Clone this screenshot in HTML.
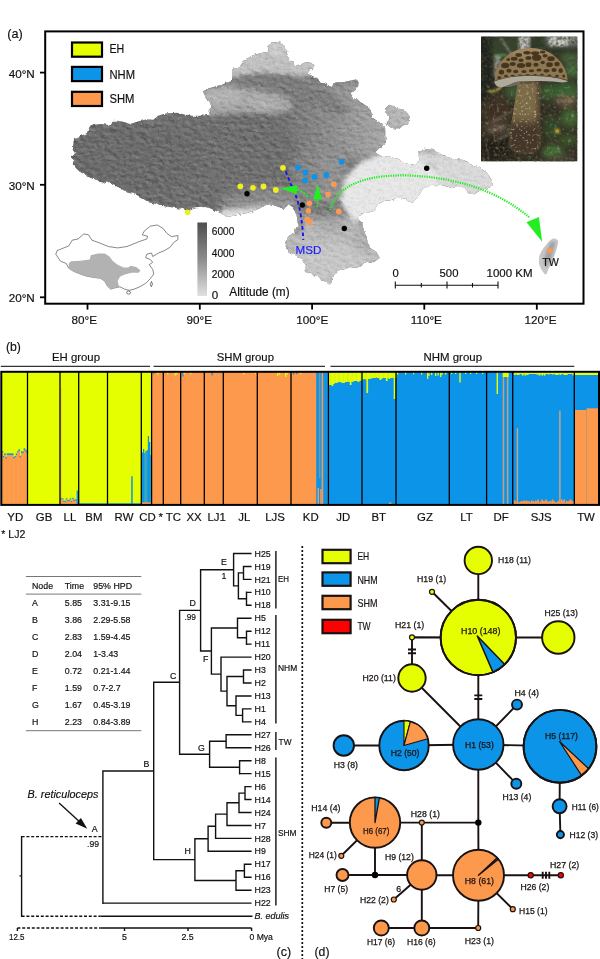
<!DOCTYPE html>
<html><head><meta charset="utf-8"><title>figure</title>
<style>
html,body{margin:0;padding:0;background:#fff;}
body{width:600px;height:959px;overflow:hidden;font-family:"Liberation Sans",sans-serif;}
svg{display:block;font-family:"Liberation Sans",sans-serif;}
</style></head><body>
<svg width="600" height="959" viewBox="0 0 600 959" style="opacity:0.999">
<rect width="600" height="959" fill="#fff"/>

<defs>
<clipPath id="land"><polygon points="70.5,156.7 75.2,153.2 72.8,149.7 74,139.2 81,135.7 86.8,133.3 89.2,127.5 92.7,124.5 102,124 110.2,125.2 114.8,120.5 123,121.7 130,124 137,121.7 146.3,119.3 153.3,119.8 158,115.8 165,113.5 176.7,112.8 186,114.7 193,115.8 199.3,115.8 209.8,114.7 208.7,110 212.2,106.5 207.5,100.7 202.8,91.3 211,87.8 222.7,84.3 232,80.8 232,69.2 240.2,66.8 244.8,59.8 253,55.2 262.3,52.8 268.2,51.7 268.2,45.8 272.8,42.3 281,42.3 284.5,47 288,52.8 286.8,56.3 292.7,62.2 295,66.8 303.2,63.3 309.3,62.1 314.5,65.2 311.7,69.8 307,73.3 314,76.8 323.3,82.7 331.5,86.9 335,82.7 346.7,81.5 356,79.2 358.8,83.8 354.8,89.7 350.2,93.2 354.8,99 363,103.7 370,108.3 372.3,117.7 379.3,122.3 385.2,127 385.2,136.3 385.7,144 379.8,147.5 375.2,152.2 379.8,155.7 390.3,156.8 398.5,159.2 406.7,163.8 414.8,165 419.5,160.3 418.3,152.2 424.2,148.7 432.3,149.8 439.3,153.3 446.3,156.8 455.7,159.2 465,160.3 472,165 481.3,168.5 487.2,173.2 491.8,180.2 493,186 487.2,188.3 481.3,189.5 474.3,194.2 467.3,193 463.8,187.2 458,186 452.2,188.3 446.3,186 439.3,184.8 430,186 423,188.3 419.5,194.2 414.8,200 410.2,203.5 405.5,198.8 398.5,197.7 391.5,200 383.3,201.2 377.5,204.7 374,210.5 368.2,212.8 363.3,213.3 356.3,218 362.2,222.7 363.3,228.5 365.7,235.5 368,242.5 370.3,248.3 376.2,251.8 379.7,257.7 373.8,262.3 368,261.2 362.2,264.7 356.3,268.2 350.5,267 344.7,269.3 337.7,270.5 333,276.3 331.8,282.9 327.2,283.3 322.5,279.8 316.7,276.3 310.8,274 305,271.7 305,264.7 301.5,258.8 295.7,255.3 292.2,253 286.3,249.5 285.2,242.5 288.7,236.7 294.5,232 298,223.8 296.8,215.7 293.3,207.5 288.7,204 284,208.7 277,206.3 270,204 264.3,206 253.3,211.2 238.7,214.8 227.7,216.7 220.3,213 209.3,208 200,206.8 191.8,208 187.9,212 183.7,209.2 175.5,208 167.3,206.8 160.3,205.7 153.3,203.3 147.5,202.2 141.7,197.5 134.7,194 127.7,192.8 120.7,188.2 113.7,184.7 106.7,181.2 102,183.5 97.3,180 90.3,177.7 84.5,174.2 79.8,171.8 76.3,168.3 72.8,163.7 74,160.2"/><polygon points="385.2,108.3 389.8,104.8 398,108.3 406.2,111.8 409.7,116.5 407.8,124.7 398,128.2 392.2,128.2 386.3,124.7 389.8,117.7 385.2,113"/></clipPath>
<filter id="bl6" x="-30%" y="-30%" width="160%" height="160%"><feGaussianBlur stdDeviation="5"/></filter>
<filter id="bl4" x="-30%" y="-30%" width="160%" height="160%"><feGaussianBlur stdDeviation="4"/></filter>
<filter id="bl3" x="-30%" y="-30%" width="160%" height="160%"><feGaussianBlur stdDeviation="3"/></filter>
<filter id="bl2" x="-30%" y="-30%" width="160%" height="160%"><feGaussianBlur stdDeviation="2"/></filter>
<filter id="bl05" x="-30%" y="-30%" width="160%" height="160%"><feGaussianBlur stdDeviation="0.55"/></filter>
<filter id="bl1" x="-30%" y="-30%" width="160%" height="160%"><feGaussianBlur stdDeviation="1"/></filter>
<filter id="texW" x="0" y="0" width="100%" height="100%"><feTurbulence type="fractalNoise" baseFrequency="0.35 0.45" numOctaves="3" seed="7"/><feColorMatrix type="matrix" values="0 0 0 0 1  0 0 0 0 1  0 0 0 0 1  2.4 0 0 0 -1.2"/></filter>
<filter id="texB" x="0" y="0" width="100%" height="100%"><feTurbulence type="fractalNoise" baseFrequency="0.35 0.45" numOctaves="3" seed="7"/><feColorMatrix type="matrix" values="0 0 0 0 0  0 0 0 0 0  0 0 0 0 0  -2.4 0 0 0 1.2"/></filter>
<filter id="tex2" x="0" y="0" width="100%" height="100%"><feTurbulence type="fractalNoise" baseFrequency="0.2 0.25" numOctaves="2" seed="3" result="n"/><feColorMatrix in="n" type="matrix" values="0 0 0 0 1  0 0 0 0 1  0 0 0 0 1  1.5 0 0 0 -0.75"/></filter>
<filter id="relief" filterUnits="userSpaceOnUse" x="50" y="34" width="470" height="262" color-interpolation-filters="sRGB"><feTurbulence type="fractalNoise" baseFrequency="0.16 0.26" numOctaves="4" seed="12" result="t"/><feDiffuseLighting in="t" surfaceScale="0.6" diffuseConstant="1" lighting-color="#ffffff" result="l"><feDistantLight azimuth="315" elevation="30"/></feDiffuseLighting><feBlend in="l" in2="SourceGraphic" mode="soft-light" result="b"/><feComposite in="b" in2="SourceGraphic" operator="in" result="c"/><feTurbulence type="fractalNoise" baseFrequency="0.25" numOctaves="2" seed="4" result="d"/><feDisplacementMap in="c" in2="d" scale="3.2" xChannelSelector="R" yChannelSelector="G"/></filter>
<linearGradient id="arg" gradientUnits="userSpaceOnUse" x1="0" y1="201" x2="0" y2="216"><stop offset="0" stop-color="#8a8a8a"/><stop offset="0.45" stop-color="#c4c4c4"/><stop offset="1" stop-color="#e8e8e8"/></linearGradient>
<linearGradient id="neg" gradientUnits="userSpaceOnUse" x1="290" y1="0" x2="385" y2="0"><stop offset="0" stop-color="#787878"/><stop offset="0.5" stop-color="#929292"/><stop offset="1" stop-color="#a8a8a8"/></linearGradient>
<linearGradient id="alt" x1="0" y1="0" x2="0" y2="1"><stop offset="0" stop-color="#4e4e4e"/><stop offset="0.5" stop-color="#8c8c8c"/><stop offset="1" stop-color="#e0e0e0"/></linearGradient>
</defs>
<g filter="url(#relief)">
<g clip-path="url(#land)">
<rect x="60" y="40" width="450" height="250" fill="#707070"/>
<g filter="url(#bl6)">
<ellipse cx="130" cy="160" rx="70" ry="34" fill="#6c6c6c"/>
<polygon points="286,78 330,76 400,86 400,160 352,160 340,150 318,150 300,150 286,120" fill="url(#neg)"/>
<polygon points="300,150 340,148 352,170 342,206 298,206 290,170" fill="#868686"/>
<polygon points="318,152 345,152 350,172 338,205 318,200" fill="#929292"/>
<polygon points="222,196 250,190 280,186 296,192 298,214 280,216 250,218 222,222" fill="#8c8c8c"/>
<polygon points="280,218 354,214 392,250 376,276 330,294 298,276 280,244" fill="#bcbcbc"/>
<ellipse cx="332" cy="262" rx="40" ry="18" fill="#c8c8c8"/>
<ellipse cx="364" cy="240" rx="12" ry="14" fill="#b0b0b0"/>
<ellipse cx="330" cy="224" rx="18" ry="8" fill="#a8a8a8"/>
<polygon points="400,146 500,156 504,200 412,210" fill="#dadada"/>
</g>
<g filter="url(#bl2)">
<polygon points="200,89 232,83 262,86 288,98 294,108 280,114 240,113 208,116 204,100" fill="#a6a6a6"/>
<ellipse cx="224" cy="97" rx="19" ry="8" fill="#b4b4b4"/>
<ellipse cx="262" cy="103" rx="16" ry="5" fill="#b2b2b2" transform="rotate(12 262 103)"/>
<polygon points="232,79 262,76 300,81 328,92 350,110 340,116 300,100 262,90 234,87" fill="#7e7e7e"/>
<polygon points="226,78 228,64 246,50 264,40 290,38 296,58 320,58 318,70 306,77 288,75 262,73 240,76" fill="#c2c2c2"/>
<ellipse cx="277" cy="49" rx="9" ry="8" fill="#cdcdcd"/>
<ellipse cx="298" cy="222" rx="6" ry="13" fill="#9a9a9a"/>
<ellipse cx="427" cy="170" rx="9" ry="8" fill="#bebebe"/>
<polygon points="384,102 412,104 412,128 386,132" fill="#b6b6b6"/>
</g>
<g filter="url(#bl2)">
<polygon points="345,178 360,162 384,153 420,160 436,170 440,186 424,204 396,204 374,214 354,222 340,202" fill="#e8e8e8"/>
<polygon points="214,226 222,209 250,206 268,202 284,204 290,213 262,222" fill="url(#arg)"/>
<polygon points="266,207 290,201 297,212 292,228 281,212" fill="#9a9a9a"/>
</g>
<rect x="60" y="40" width="450" height="250" filter="url(#texW)" opacity="0.08"/>
<rect x="60" y="40" width="450" height="250" filter="url(#texB)" opacity="0.08"/>
</g>
</g>
<polygon points="553,238.5 556,238.8 558.2,241 557.5,246 556,251 553.5,258 551,264 548.5,269 546.5,274 545,274.5 543,272 540.5,268 538.8,263 539.3,256 541.5,251 544,247.5 547.5,243 550.5,240" fill="#c6c6c6" filter="url(#bl05)"/>
<polygon points="551,242 555.5,242 552,256 546.5,268 543.5,262 546,252" fill="#a2a2a2" filter="url(#bl1)"/>
<rect x="197.4" y="222.5" width="9.6" height="73.5" fill="url(#alt)"/>
<text x="211.8" y="235.4" font-size="11.6" text-anchor="start" fill="#111" textLength="22.6" lengthAdjust="spacingAndGlyphs"  stroke="#111" stroke-width="0.18" style="">6000</text>
<text x="211.8" y="256.6" font-size="11.6" text-anchor="start" fill="#111" textLength="22.6" lengthAdjust="spacingAndGlyphs"  stroke="#111" stroke-width="0.18" style="">4000</text>
<text x="211.8" y="278" font-size="11.6" text-anchor="start" fill="#111" textLength="22.6" lengthAdjust="spacingAndGlyphs"  stroke="#111" stroke-width="0.18" style="">2000</text>
<text x="211.8" y="299.2" font-size="11.6" text-anchor="start" fill="#111"  stroke="#111" stroke-width="0.18" style="">0</text>
<text x="229.3" y="296.2" font-size="12.2" text-anchor="start" fill="#111" textLength="60.3" lengthAdjust="spacingAndGlyphs"  stroke="#111" stroke-width="0.18" style="">Altitude (m)</text>
<polygon points="55.8,254.2 57,250.7 62.8,248.3 68.7,246 72.2,240.2 78,239 83.8,233.9 88.5,234.8 92,240.2 100.2,243.2 108.3,246.5 117.7,247.9 127,246.5 134,243.7 141,240.9 146.8,239 147.5,236.2 142.2,234.8 144.5,230.8 150.3,226.2 157.3,225 163.2,228.5 166.7,233.2 171.3,236.7 177.9,235.5 177.9,239.5 173.7,242.5 170.2,247.2 164.3,250.7 158.5,253 152.7,256.5 151.5,253 146.8,254.2 145.7,257.7 150.3,259.5 152.7,262.3 149.2,264.7 152.7,269.3 153.8,274 150.3,278.7 145.7,283.3 139.8,286.8 134,289.2 129.3,290.3 124.7,289.2 120,286.8 114.2,288 110.7,289.2 107.2,285.7 104.8,281 100.2,278.2 94.3,277.5 87.3,276.3 80.3,274 73.3,271.2 68.7,268.2 66.3,263.5 60.5,261.2 58.2,257.7" fill="#fff" stroke="#555" stroke-width="0.7" stroke-linejoin="round"/>
<polygon points="68.7,263.5 71,261.2 80.3,260.7 89.7,259.5 90.8,255.3 97.8,253.5 104.8,253.5 109.5,256.5 113,261.2 117.7,264.7 123.5,267.5 128.2,267.5 130.5,265.8 136.3,267 140.5,270.5 138.7,272.8 131.7,272.8 124.7,274.5 120,276.8 117.7,281 118.8,285.7 120,286.8 114.2,288 110.7,289.2 107.2,285.7 104.8,281 100.2,278.2 94.3,277.5 87.3,276.3 80.3,274 73.3,271.2 68.7,268.2" fill="#b2b2b2"/>
<ellipse cx="128.6" cy="292.6" rx="2" ry="1.5" fill="#fff" stroke="#444" stroke-width="0.7"/>
<path d="M151.5 281.5 l1 2.5 l-1.2 2.8 l-1 -2.5z" fill="#fff" stroke="#444" stroke-width="0.7"/>
<defs><clipPath id="ph"><rect x="481" y="36.5" width="96.5" height="125"/></clipPath>
<filter id="phn" x="0" y="0" width="100%" height="100%"><feTurbulence type="fractalNoise" baseFrequency="0.32" numOctaves="2" seed="11"/><feColorMatrix type="matrix" values="0 0 0 0 0.06  0 0 0 0 0.06  0 0 0 0 0.03  2.6 0 0 0 -1.1"/></filter>
<filter id="phn2" x="0" y="0" width="100%" height="100%"><feTurbulence type="fractalNoise" baseFrequency="0.28" numOctaves="2" seed="5"/><feColorMatrix type="matrix" values="0 0 0 0 0.72  0 0 0 0 0.66  0 0 0 0 0.55  0 3 0 0 -1.7"/></filter>
<filter id="phn3" x="0" y="0" width="100%" height="100%"><feTurbulence type="fractalNoise" baseFrequency="0.38" numOctaves="2" seed="9"/><feColorMatrix type="matrix" values="0 0 0 0 0.9  0 0 0 0 0.88  0 0 0 0 0.8  0 0 3 0 -1.75"/></filter>
<clipPath id="capc"><path d="M494.6 81 C495 70 500 60 509 54 C516 49.5 524 48 531 48 C541 48 552 52 559 60 C565 67 567.5 74 567.6 80.5 C556 76.5 544 75.6 530 75.6 C516 75.6 505 77.5 494.6 81Z"/></clipPath>
<clipPath id="stemc"><path d="M517.5 79 L540.2 79 C540 100 540.3 128 540.5 146 C538 152.5 530 154.8 524 154.2 C515 153.5 509.5 150 508.6 145 C509.5 126 515.5 106 517.5 79Z"/></clipPath>
</defs>
<g clip-path="url(#ph)">
<rect x="481" y="36.5" width="96.5" height="125" fill="#302c22"/>
<g filter="url(#bl3)">
<rect x="478" y="34" width="14" height="70" fill="#1d211b"/>
<rect x="492" y="36" width="30" height="20" fill="#34422f"/>
<rect x="530" y="36" width="22" height="14" fill="#2c3a28"/>
<rect x="548" y="34" width="30" height="10" fill="#9aa298"/>
<rect x="552" y="46" width="28" height="16" fill="#2a3324"/>
<ellipse cx="572" cy="70" rx="8" ry="7" fill="#4a7a44"/>
<ellipse cx="570" cy="58" rx="10" ry="3" fill="#56784a"/>
<ellipse cx="566" cy="92" rx="14" ry="10" fill="#356331"/>
<ellipse cx="548" cy="92" rx="8" ry="8" fill="#38602f"/>
<ellipse cx="570" cy="118" rx="9" ry="9" fill="#3f6e35"/>
<ellipse cx="552" cy="128" rx="8" ry="12" fill="#2f4a26"/>
<ellipse cx="553" cy="152" rx="10" ry="6" fill="#4a8638"/>
<ellipse cx="568" cy="140" rx="8" ry="6" fill="#3a5a2c"/>
<ellipse cx="566" cy="101" rx="10" ry="4.5" fill="#8c6e58"/>
<ellipse cx="513" cy="92" rx="8" ry="6" fill="#3c6838"/>
<ellipse cx="496" cy="112" rx="14" ry="16" fill="#3c2f24"/>
<ellipse cx="497" cy="128" rx="12" ry="6" fill="#5a4a3c"/>
<ellipse cx="497" cy="148" rx="18" ry="12" fill="#211c18"/>
<ellipse cx="560" cy="158" rx="14" ry="4" fill="#4a4438"/>
</g>
<g filter="url(#bl1)">
<rect x="518.6" y="36" width="11.6" height="15" fill="#b9b9b9"/>
<path d="M500.5 38 L512.5 56" stroke="#959c93" stroke-width="1.5"/>
<rect x="494" y="56" width="7.5" height="21" fill="#868c82"/>
<rect x="494" y="54" width="13" height="2.6" fill="#5c9050"/>
<rect x="549.5" y="36" width="18" height="10" fill="#e6e8e6"/>
<path d="M553 36V45 M557 36V46 M561 36V44 M565 36V46" stroke="#39402f" stroke-width="1.2"/>
<path d="M488 91 C494 92 498 90 501 87" stroke="#c9c24a" stroke-width="1.8" fill="none"/>
<path d="M492 122 L510 112 M489 132 L506 126 M496 140 L512 133" stroke="#a8988a" stroke-width="1"/>
<ellipse cx="557" cy="131" rx="3" ry="2.5" fill="#bfa232"/>
</g>
<rect x="481" y="36.5" width="96.5" height="125" filter="url(#phn)" opacity="0.85"/>
<rect x="481" y="84" width="96.5" height="78" filter="url(#phn2)" opacity="0.38"/>
<path d="M517.5 79 L540.2 79 C540 100 540.3 128 540.5 146 C538 152.5 530 154.8 524 154.2 C515 153.5 509.5 150 508.6 145 C509.5 126 515.5 106 517.5 79Z" fill="#7b6a46"/>
<g clip-path="url(#stemc)"><rect x="505" y="122" width="40" height="36" fill="#2e241a" opacity="0.7" filter="url(#bl4)"/><rect x="536.5" y="78" width="6" height="80" fill="#4a3c2a" opacity="0.7" filter="url(#bl1)"/><rect x="505" y="78" width="40" height="80" filter="url(#phn3)" opacity="0.7"/><rect x="517" y="78" width="26" height="5" fill="#2a2018" opacity="0.6" filter="url(#bl1)"/></g>
<path d="M494.4 81.5 C505 77 517 76 530 76 C544 76 556 77 567.8 81 C567 83 560 82.5 552 81.6 C548 81.2 544 81 540.5 81 L519.5 81.5 C514 82 510 85 505 86.5 C500 88 495 87 494.4 81.5Z" fill="#aeaa9c"/>
<path d="M505 86.5 C510 85 514 82 519.5 81.5 L519.5 84 C514 86 509 88 505 86.5Z" fill="#6e6a60"/>
<path d="M494.6 81 C495 70 500 60 509 54 C516 49.5 524 48 531 48 C541 48 552 52 559 60 C565 67 567.5 74 567.6 80.5 C556 76.5 544 75.6 530 75.6 C516 75.6 505 77.5 494.6 81Z" fill="#8d7852"/>
<g clip-path="url(#capc)">
<ellipse cx="531" cy="52" rx="22" ry="6" fill="#a8926c" opacity="0.6" filter="url(#bl2)"/>
<g filter="url(#bl05)" opacity="0.95">
<ellipse cx="518.7" cy="55.0" rx="3.37" ry="1.95" fill="#43331f"/>
<ellipse cx="527.0" cy="52.7" rx="3.75" ry="1.75" fill="#43331f"/>
<ellipse cx="535.2" cy="53.2" rx="4.12" ry="1.95" fill="#43331f"/>
<ellipse cx="542.7" cy="52.0" rx="2.81" ry="1.56" fill="#43331f"/>
<ellipse cx="514.2" cy="58.7" rx="3.37" ry="1.95" fill="#43331f"/>
<ellipse cx="521.0" cy="60.2" rx="2.62" ry="1.75" fill="#43331f"/>
<ellipse cx="528.5" cy="58.0" rx="3.00" ry="1.95" fill="#43331f"/>
<ellipse cx="536.7" cy="57.7" rx="4.69" ry="3.12" fill="#43331f"/>
<ellipse cx="545.0" cy="55.7" rx="2.62" ry="1.75" fill="#43331f"/>
<ellipse cx="551.0" cy="58.7" rx="3.75" ry="2.34" fill="#43331f"/>
<ellipse cx="505.2" cy="65.5" rx="4.12" ry="2.73" fill="#43331f"/>
<ellipse cx="512.7" cy="64.0" rx="3.00" ry="1.95" fill="#43331f"/>
<ellipse cx="521.0" cy="65.5" rx="4.12" ry="2.53" fill="#43331f"/>
<ellipse cx="528.5" cy="64.7" rx="3.00" ry="2.34" fill="#43331f"/>
<ellipse cx="536.0" cy="64.7" rx="2.62" ry="1.95" fill="#43331f"/>
<ellipse cx="542.7" cy="62.5" rx="2.25" ry="1.75" fill="#43331f"/>
<ellipse cx="549.5" cy="64.7" rx="3.37" ry="2.34" fill="#43331f"/>
<ellipse cx="557.0" cy="64.0" rx="2.62" ry="2.34" fill="#43331f"/>
<ellipse cx="501.5" cy="72.2" rx="2.62" ry="2.34" fill="#43331f"/>
<ellipse cx="509.0" cy="70.7" rx="2.62" ry="1.95" fill="#43331f"/>
<ellipse cx="515.7" cy="71.5" rx="2.62" ry="1.75" fill="#43331f"/>
<ellipse cx="524.0" cy="71.5" rx="2.62" ry="1.56" fill="#43331f"/>
<ellipse cx="531.5" cy="70.7" rx="2.62" ry="1.56" fill="#43331f"/>
<ellipse cx="539.0" cy="70.0" rx="2.62" ry="1.56" fill="#43331f"/>
<ellipse cx="546.5" cy="70.7" rx="3.00" ry="1.75" fill="#43331f"/>
<ellipse cx="554.0" cy="70.0" rx="2.62" ry="1.95" fill="#43331f"/>
<ellipse cx="560.7" cy="70.7" rx="2.25" ry="2.34" fill="#43331f"/>
<ellipse cx="499.2" cy="77.5" rx="1.87" ry="1.56" fill="#43331f"/>
<ellipse cx="506.0" cy="76.0" rx="1.87" ry="1.17" fill="#43331f"/>
<ellipse cx="512.7" cy="75.7" rx="1.87" ry="0.97" fill="#43331f"/>
<ellipse cx="520.2" cy="75.4" rx="1.87" ry="0.97" fill="#43331f"/>
<ellipse cx="527.7" cy="74.8" rx="1.69" ry="0.78" fill="#43331f"/>
<ellipse cx="535.2" cy="74.8" rx="1.69" ry="0.78" fill="#43331f"/>
<ellipse cx="542.0" cy="74.8" rx="1.87" ry="0.97" fill="#43331f"/>
<ellipse cx="549.5" cy="75.4" rx="1.87" ry="0.97" fill="#43331f"/>
<ellipse cx="557.0" cy="76.0" rx="1.87" ry="1.36" fill="#43331f"/>
<ellipse cx="563.7" cy="76.0" rx="1.50" ry="1.56" fill="#43331f"/>
<ellipse cx="560.0" cy="59.5" rx="1.50" ry="1.56" fill="#43331f"/>
<ellipse cx="508.2" cy="59.5" rx="1.87" ry="1.56" fill="#43331f"/>
</g>
<path d="M494 81 C505 77.5 517 75.8 530 75.8 C544 75.8 556 76.8 568 80.6" stroke="#5a4a36" stroke-width="1.6" fill="none" opacity="0.6"/>
</g>
</g>
<rect x="45.2" y="31.4" width="538.3" height="272.3" fill="none" stroke="#000" stroke-width="2"/>
<line x1="40" y1="72.6" x2="45" y2="72.6" stroke="#000" stroke-width="1.8"/>
<line x1="40" y1="184.8" x2="45" y2="184.8" stroke="#000" stroke-width="1.8"/>
<line x1="40" y1="297.3" x2="45" y2="297.3" stroke="#000" stroke-width="1.8"/>
<line x1="87.5" y1="304" x2="87.5" y2="309.6" stroke="#000" stroke-width="1.8"/>
<line x1="199.8" y1="304" x2="199.8" y2="309.6" stroke="#000" stroke-width="1.8"/>
<line x1="312.1" y1="304" x2="312.1" y2="309.6" stroke="#000" stroke-width="1.8"/>
<line x1="424.3" y1="304" x2="424.3" y2="309.6" stroke="#000" stroke-width="1.8"/>
<line x1="536.8" y1="304" x2="536.8" y2="309.6" stroke="#000" stroke-width="1.8"/>
<text x="8.7" y="77.6" font-size="11.7" text-anchor="start" fill="#111"  stroke="#111" stroke-width="0.18" style="">40°N</text>
<text x="8.7" y="189.8" font-size="11.7" text-anchor="start" fill="#111"  stroke="#111" stroke-width="0.18" style="">30°N</text>
<text x="8.7" y="302.2" font-size="11.7" text-anchor="start" fill="#111"  stroke="#111" stroke-width="0.18" style="">20°N</text>
<text x="71.6" y="324.4" font-size="11.7" text-anchor="start" fill="#111"  stroke="#111" stroke-width="0.18" style="">80°E</text>
<text x="186.5" y="324.4" font-size="11.7" text-anchor="start" fill="#111"  stroke="#111" stroke-width="0.18" style="">90°E</text>
<text x="296.3" y="324.4" font-size="11.7" text-anchor="start" fill="#111"  stroke="#111" stroke-width="0.18" style="">100°E</text>
<text x="410.8" y="324.4" font-size="11.7" text-anchor="start" fill="#111"  stroke="#111" stroke-width="0.18" style="">110°E</text>
<text x="524.6" y="324.4" font-size="11.7" text-anchor="start" fill="#111"  stroke="#111" stroke-width="0.18" style="">120°E</text>
<text x="7.3" y="37.5" font-size="13.5" text-anchor="start" fill="#111" textLength="15.5" lengthAdjust="spacingAndGlyphs"  stroke="#111" stroke-width="0.18" style="">(a)</text>
<rect x="72" y="42.5" width="30" height="14.2" fill="#e6ff00" stroke="#000" stroke-width="2.2"/>
<text x="109.5" y="52.5" font-size="13.2" text-anchor="start" fill="#111" textLength="14.8" lengthAdjust="spacingAndGlyphs"  stroke="#111" stroke-width="0.18" style="">EH</text>
<rect x="72" y="66.9" width="30" height="14.2" fill="#0c94e8" stroke="#000" stroke-width="2.2"/>
<text x="109.5" y="79.2" font-size="13.2" text-anchor="start" fill="#111" textLength="25.5" lengthAdjust="spacingAndGlyphs"  stroke="#111" stroke-width="0.18" style="">NHM</text>
<rect x="72" y="91.8" width="30" height="14.2" fill="#fd994d" stroke="#000" stroke-width="2.2"/>
<text x="109.5" y="103.4" font-size="13.2" text-anchor="start" fill="#111" textLength="25" lengthAdjust="spacingAndGlyphs"  stroke="#111" stroke-width="0.18" style="">SHM</text>
<path d="M395.3 285.2H498 M395.3 281.5V288.5 M447 281.5V288.5 M498 281.5V288.5 M421.3 283V287.5 M472.5 283V287.5" stroke="#111" stroke-width="1.1" fill="none"/>
<text x="395.6" y="277" font-size="11.3" text-anchor="middle" fill="#111"  stroke="#111" stroke-width="0.18" style="">0</text>
<text x="449" y="277" font-size="11.3" text-anchor="middle" fill="#111"  stroke="#111" stroke-width="0.18" style="">500</text>
<text x="486.5" y="277" font-size="11.3" text-anchor="start" fill="#111" textLength="46" lengthAdjust="spacingAndGlyphs"  stroke="#111" stroke-width="0.18" style="">1000 KM</text>
<circle cx="240.3" cy="186.3" r="2.9" fill="#eef01e"/>
<circle cx="253" cy="187.8" r="2.9" fill="#eef01e"/>
<circle cx="263.5" cy="186.5" r="2.9" fill="#eef01e"/>
<circle cx="275.8" cy="190" r="2.9" fill="#eef01e"/>
<circle cx="283" cy="167.8" r="2.9" fill="#eef01e"/>
<circle cx="187.6" cy="212.3" r="2.9" fill="#eef01e"/>
<circle cx="298" cy="167.5" r="2.9" fill="#0c94e8"/>
<circle cx="305.5" cy="172.5" r="2.9" fill="#0c94e8"/>
<circle cx="305" cy="180.5" r="2.9" fill="#0c94e8"/>
<circle cx="314.3" cy="177" r="2.9" fill="#0c94e8"/>
<circle cx="326.3" cy="175" r="2.9" fill="#0c94e8"/>
<circle cx="341.5" cy="161.8" r="2.9" fill="#0c94e8"/>
<circle cx="333.8" cy="184.3" r="2.9" fill="#f79a55"/>
<circle cx="328" cy="194.5" r="2.9" fill="#f79a55"/>
<circle cx="309.3" cy="203.3" r="2.9" fill="#f79a55"/>
<circle cx="308.3" cy="210.8" r="2.9" fill="#f79a55"/>
<circle cx="307.5" cy="219.3" r="2.9" fill="#f79a55"/>
<circle cx="309.5" cy="222.5" r="2.9" fill="#f79a55"/>
<circle cx="338.8" cy="211.5" r="2.9" fill="#f79a55"/>
<circle cx="247" cy="193.8" r="2.7" fill="#000"/>
<circle cx="302.3" cy="205" r="2.7" fill="#000"/>
<circle cx="344.3" cy="228.5" r="2.7" fill="#000"/>
<circle cx="426.7" cy="168.3" r="2.7" fill="#000"/>
<circle cx="549.7" cy="250.7" r="2.6" fill="#f79a55"/>
<path d="M285.8 171.3 C289 181 294 190 297 199 C300.5 210 302.5 224 303.3 240" fill="none" stroke="#1414f0" stroke-width="1.9" stroke-dasharray="3.6 2.8"/>
<text x="295.5" y="253.8" font-size="11.8" text-anchor="start" fill="#1a1aff" textLength="25.8" lengthAdjust="spacingAndGlyphs"  stroke="#1a1aff" stroke-width="0.18" style="">MSD</text>
<polygon points="280.8,188.6 297.2,185 296.8,194.3" fill="#22ee22"/>
<path d="M296 189.5 C301 190.3 305 193 308 197" fill="none" stroke="#22ee22" stroke-width="1.5" stroke-dasharray="3 0.9"/>
<polygon points="317.5,184.3 313,199.6 322.2,199.6" fill="#22ee22"/>
<path d="M317.8 199 C318 203 317.5 206 316.8 209" fill="none" stroke="#22ee22" stroke-width="1.3" stroke-dasharray="2 1.2"/>
<path d="M330 210 C334 196 345 184 372 178 C400 172.5 440 176 472 186 C495 193.5 515 205 529.5 217.5" fill="none" stroke="#22ee22" stroke-width="2.2" stroke-dasharray="1.3 1.1"/>
<polygon points="542.2,241.8 526.5,222.2 538.9,217" fill="#22ee22"/>
<text x="542.2" y="265.8" font-size="11" text-anchor="start" fill="#111" textLength="16.6" lengthAdjust="spacingAndGlyphs"  stroke="#111" stroke-width="0.18" style="">TW</text>
<text x="5.9" y="351.4" font-size="13.5" text-anchor="start" fill="#111" textLength="15" lengthAdjust="spacingAndGlyphs"  stroke="#111" stroke-width="0.18" style="">(b)</text>
<text x="52" y="361.1" font-size="11.4" text-anchor="start" fill="#111" textLength="48" lengthAdjust="spacingAndGlyphs"  stroke="#111" stroke-width="0.18" style="">EH group</text>
<text x="216.7" y="361.1" font-size="11.4" text-anchor="start" fill="#111" textLength="57.3" lengthAdjust="spacingAndGlyphs"  stroke="#111" stroke-width="0.18" style="">SHM group</text>
<text x="423.6" y="361.1" font-size="11.4" text-anchor="start" fill="#111" textLength="58.4" lengthAdjust="spacingAndGlyphs"  stroke="#111" stroke-width="0.18" style="">NHM group</text>
<path d="M0.8 366.3H150 M153.5 366.3H325 M330.5 366.3H574.3" stroke="#333" stroke-width="1.3"/>
<rect x="1.5" y="372" width="150" height="132.5" fill="#e6ff00"/>
<rect x="151.5" y="372" width="177" height="132.5" fill="#fd994d"/>
<rect x="328.4" y="372" width="270.6" height="132.5" fill="#0c94e8"/>
<rect x="1.50" y="450.9" width="1.70" height="1.8" fill="#0c94e8"/>
<rect x="1.50" y="452.5" width="1.70" height="52.0" fill="#fd994d"/>
<rect x="2.80" y="455.9" width="1.70" height="1.8" fill="#0c94e8"/>
<rect x="2.80" y="457.5" width="1.70" height="47.0" fill="#fd994d"/>
<rect x="4.10" y="453.4" width="1.70" height="1.8" fill="#0c94e8"/>
<rect x="4.10" y="455.0" width="1.70" height="49.5" fill="#fd994d"/>
<rect x="5.40" y="456.9" width="1.70" height="1.8" fill="#0c94e8"/>
<rect x="5.40" y="458.5" width="1.70" height="46.0" fill="#fd994d"/>
<rect x="6.70" y="453.4" width="1.70" height="1.8" fill="#0c94e8"/>
<rect x="6.70" y="455.0" width="1.70" height="49.5" fill="#fd994d"/>
<rect x="8.00" y="453.4" width="1.70" height="1.8" fill="#0c94e8"/>
<rect x="8.00" y="455.0" width="1.70" height="49.5" fill="#fd994d"/>
<rect x="9.30" y="453.4" width="1.70" height="1.8" fill="#0c94e8"/>
<rect x="9.30" y="455.0" width="1.70" height="49.5" fill="#fd994d"/>
<rect x="10.60" y="453.4" width="1.70" height="1.8" fill="#0c94e8"/>
<rect x="10.60" y="455.0" width="1.70" height="49.5" fill="#fd994d"/>
<rect x="11.90" y="453.4" width="1.70" height="1.8" fill="#0c94e8"/>
<rect x="11.90" y="455.0" width="1.70" height="49.5" fill="#fd994d"/>
<rect x="13.20" y="456.9" width="1.70" height="1.8" fill="#0c94e8"/>
<rect x="13.20" y="458.5" width="1.70" height="46.0" fill="#fd994d"/>
<rect x="14.50" y="455.9" width="1.70" height="1.8" fill="#0c94e8"/>
<rect x="14.50" y="457.5" width="1.70" height="47.0" fill="#fd994d"/>
<rect x="15.80" y="453.4" width="1.70" height="1.8" fill="#0c94e8"/>
<rect x="15.80" y="455.0" width="1.70" height="49.5" fill="#fd994d"/>
<rect x="17.10" y="450.9" width="1.70" height="1.8" fill="#0c94e8"/>
<rect x="17.10" y="452.5" width="1.70" height="52.0" fill="#fd994d"/>
<rect x="18.40" y="449.4" width="1.70" height="1.8" fill="#0c94e8"/>
<rect x="18.40" y="451.0" width="1.70" height="53.5" fill="#fd994d"/>
<rect x="19.70" y="455.9" width="1.70" height="1.8" fill="#0c94e8"/>
<rect x="19.70" y="457.5" width="1.70" height="47.0" fill="#fd994d"/>
<rect x="21.00" y="451.4" width="1.70" height="1.8" fill="#0c94e8"/>
<rect x="21.00" y="453.0" width="1.70" height="51.5" fill="#fd994d"/>
<rect x="22.30" y="451.4" width="1.70" height="1.8" fill="#0c94e8"/>
<rect x="22.30" y="453.0" width="1.70" height="51.5" fill="#fd994d"/>
<rect x="23.60" y="448.4" width="1.70" height="1.8" fill="#0c94e8"/>
<rect x="23.60" y="450.0" width="1.70" height="54.5" fill="#fd994d"/>
<rect x="24.90" y="449.9" width="1.70" height="1.8" fill="#0c94e8"/>
<rect x="24.90" y="451.5" width="1.70" height="53.0" fill="#fd994d"/>
<rect x="26.20" y="451.4" width="1.70" height="1.8" fill="#0c94e8"/>
<rect x="26.20" y="453.0" width="1.70" height="51.5" fill="#fd994d"/>
<rect x="60.50" y="498.3" width="1.7" height="1.4" fill="#0c94e8"/>
<rect x="60.50" y="499.5" width="1.7" height="5.0" fill="#fd994d"/>
<rect x="61.80" y="498.3" width="1.7" height="1.4" fill="#0c94e8"/>
<rect x="61.80" y="499.5" width="1.7" height="5.0" fill="#fd994d"/>
<rect x="63.10" y="500.8" width="1.7" height="1.4" fill="#0c94e8"/>
<rect x="63.10" y="502.0" width="1.7" height="2.5" fill="#fd994d"/>
<rect x="64.40" y="500.8" width="1.7" height="1.4" fill="#0c94e8"/>
<rect x="64.40" y="502.0" width="1.7" height="2.5" fill="#fd994d"/>
<rect x="65.70" y="498.3" width="1.7" height="1.4" fill="#0c94e8"/>
<rect x="65.70" y="499.5" width="1.7" height="5.0" fill="#fd994d"/>
<rect x="67.00" y="500.3" width="1.7" height="1.4" fill="#0c94e8"/>
<rect x="67.00" y="501.5" width="1.7" height="3.0" fill="#fd994d"/>
<rect x="68.30" y="499.8" width="1.7" height="1.4" fill="#0c94e8"/>
<rect x="68.30" y="501.0" width="1.7" height="3.5" fill="#fd994d"/>
<rect x="69.60" y="498.3" width="1.7" height="1.4" fill="#0c94e8"/>
<rect x="69.60" y="499.5" width="1.7" height="5.0" fill="#fd994d"/>
<rect x="70.90" y="500.8" width="1.7" height="1.4" fill="#0c94e8"/>
<rect x="70.90" y="502.0" width="1.7" height="2.5" fill="#fd994d"/>
<rect x="72.20" y="497.8" width="1.7" height="1.4" fill="#0c94e8"/>
<rect x="72.20" y="499.0" width="1.7" height="5.5" fill="#fd994d"/>
<rect x="73.50" y="499.8" width="1.7" height="1.4" fill="#0c94e8"/>
<rect x="73.50" y="501.0" width="1.7" height="3.5" fill="#fd994d"/>
<rect x="74.80" y="499.3" width="1.7" height="1.4" fill="#0c94e8"/>
<rect x="74.80" y="500.5" width="1.7" height="4.0" fill="#fd994d"/>
<rect x="76.10" y="499.3" width="1.7" height="1.4" fill="#0c94e8"/>
<rect x="76.10" y="500.5" width="1.7" height="4.0" fill="#fd994d"/>
<rect x="77.40" y="499.3" width="1.7" height="1.4" fill="#0c94e8"/>
<rect x="77.40" y="500.5" width="1.7" height="4.0" fill="#fd994d"/>
<rect x="76.6" y="490.5" width="1.5" height="14" fill="#0c94e8"/>
<rect x="60.6" y="388" width="0.8" height="116" fill="#fd994d" opacity="0.8"/>
<rect x="79" y="503" width="62" height="1.5" fill="#0c94e8" opacity="0.7"/>
<rect x="131.2" y="476.3" width="1.5" height="28" fill="#0c94e8"/>
<rect x="141.8" y="452.5" width="1.3" height="52.0" fill="#0c94e8"/>
<rect x="143" y="449" width="1.3" height="55.5" fill="#0c94e8"/>
<rect x="144.2" y="453" width="1.3" height="51.5" fill="#0c94e8"/>
<rect x="145.4" y="451" width="1.3" height="53.5" fill="#0c94e8"/>
<rect x="146.6" y="450" width="1.3" height="54.5" fill="#0c94e8"/>
<rect x="147.8" y="436" width="1.3" height="68.5" fill="#0c94e8"/>
<rect x="149" y="442" width="1.3" height="62.5" fill="#0c94e8"/>
<rect x="150.2" y="455" width="1.3" height="49.5" fill="#0c94e8"/>
<rect x="141.8" y="502.3" width="9.7" height="2.2" fill="#fd994d"/>
<rect x="153" y="372" width="1.3" height="2.2" fill="#0c94e8"/>
<rect x="157" y="372" width="1.3" height="2.5" fill="#e6ff00"/>
<rect x="167" y="372" width="1.3" height="2.2" fill="#e6ff00"/>
<rect x="174.5" y="372" width="1.3" height="3.5" fill="#e6ff00"/>
<rect x="176" y="372" width="1.3" height="2.5" fill="#e6ff00"/>
<rect x="182.3" y="372" width="1.3" height="4.5" fill="#0c94e8"/>
<rect x="183.6" y="372" width="1.3" height="2.5" fill="#e6ff00"/>
<rect x="190" y="372" width="1.3" height="2.2" fill="#e6ff00"/>
<rect x="211.5" y="372" width="1.3" height="3.5" fill="#0c94e8"/>
<rect x="243" y="372" width="1.3" height="2.5" fill="#e6ff00"/>
<rect x="255" y="372" width="1.3" height="2.2" fill="#e6ff00"/>
<rect x="277" y="372" width="1.3" height="4" fill="#e6ff00"/>
<rect x="279" y="372" width="1.3" height="3" fill="#e6ff00"/>
<rect x="285" y="372" width="1.3" height="5" fill="#e6ff00"/>
<rect x="286.3" y="372" width="1.3" height="3" fill="#e6ff00"/>
<rect x="293" y="372" width="1.3" height="2.5" fill="#0c94e8"/>
<rect x="296" y="372" width="1.3" height="2.2" fill="#0c94e8"/>
<rect x="300" y="372" width="1.3" height="2.2" fill="#e6ff00"/>
<rect x="316.2" y="372" width="5.4" height="132.5" fill="#0c94e8"/>
<rect x="323.2" y="372" width="4.6" height="132.5" fill="#0c94e8"/>
<rect x="317.6" y="488" width="1.4" height="17" fill="#fd994d"/>
<rect x="319.2" y="372" width="1.1" height="106" fill="#fd994d" opacity="0.6"/>
<rect x="320.2" y="489" width="1.5" height="16" fill="#fd994d"/>
<rect x="329.00" y="372" width="1.7" height="13" fill="#e6ff00"/>
<rect x="330.30" y="372" width="1.7" height="13" fill="#e6ff00"/>
<rect x="331.60" y="372" width="1.7" height="14" fill="#e6ff00"/>
<rect x="332.90" y="372" width="1.7" height="12" fill="#e6ff00"/>
<rect x="334.20" y="372" width="1.7" height="11" fill="#e6ff00"/>
<rect x="335.50" y="372" width="1.7" height="11" fill="#e6ff00"/>
<rect x="336.80" y="372" width="1.7" height="10.5" fill="#e6ff00"/>
<rect x="338.10" y="372" width="1.7" height="10" fill="#e6ff00"/>
<rect x="339.40" y="372" width="1.7" height="10" fill="#e6ff00"/>
<rect x="340.70" y="372" width="1.7" height="10.5" fill="#e6ff00"/>
<rect x="342.00" y="372" width="1.7" height="11" fill="#e6ff00"/>
<rect x="343.30" y="372" width="1.7" height="11" fill="#e6ff00"/>
<rect x="344.60" y="372" width="1.7" height="10" fill="#e6ff00"/>
<rect x="345.90" y="372" width="1.7" height="10" fill="#e6ff00"/>
<rect x="347.20" y="372" width="1.7" height="9.5" fill="#e6ff00"/>
<rect x="348.50" y="372" width="1.7" height="10" fill="#e6ff00"/>
<rect x="349.80" y="372" width="1.7" height="13" fill="#e6ff00"/>
<rect x="351.10" y="372" width="1.7" height="10" fill="#e6ff00"/>
<rect x="352.40" y="372" width="1.7" height="9.5" fill="#e6ff00"/>
<rect x="353.70" y="372" width="1.7" height="9" fill="#e6ff00"/>
<rect x="355.00" y="372" width="1.7" height="9" fill="#e6ff00"/>
<rect x="356.30" y="372" width="1.7" height="9" fill="#e6ff00"/>
<rect x="357.60" y="372" width="1.7" height="10" fill="#e6ff00"/>
<rect x="358.90" y="372" width="1.7" height="9" fill="#e6ff00"/>
<rect x="360.20" y="372" width="1.7" height="8.5" fill="#e6ff00"/>
<rect x="361.50" y="372" width="1.7" height="8.5" fill="#e6ff00"/>
<rect x="362.50" y="372" width="1.7" height="7" fill="#e6ff00"/>
<rect x="363.80" y="372" width="1.7" height="7" fill="#e6ff00"/>
<rect x="365.10" y="372" width="1.7" height="7.5" fill="#e6ff00"/>
<rect x="366.40" y="372" width="1.7" height="21" fill="#e6ff00"/>
<rect x="367.70" y="372" width="1.7" height="7" fill="#e6ff00"/>
<rect x="369.00" y="372" width="1.7" height="7" fill="#e6ff00"/>
<rect x="370.30" y="372" width="1.7" height="6.5" fill="#e6ff00"/>
<rect x="371.60" y="372" width="1.7" height="6" fill="#e6ff00"/>
<rect x="372.90" y="372" width="1.7" height="6" fill="#e6ff00"/>
<rect x="374.20" y="372" width="1.7" height="6" fill="#e6ff00"/>
<rect x="375.50" y="372" width="1.7" height="5.5" fill="#e6ff00"/>
<rect x="376.80" y="372" width="1.7" height="6" fill="#e6ff00"/>
<rect x="378.10" y="372" width="1.7" height="6" fill="#e6ff00"/>
<rect x="379.40" y="372" width="1.7" height="8" fill="#e6ff00"/>
<rect x="380.70" y="372" width="1.7" height="7" fill="#e6ff00"/>
<rect x="382.00" y="372" width="1.7" height="6" fill="#e6ff00"/>
<rect x="383.30" y="372" width="1.7" height="6" fill="#e6ff00"/>
<rect x="384.60" y="372" width="1.7" height="6" fill="#e6ff00"/>
<rect x="385.90" y="372" width="1.7" height="9" fill="#e6ff00"/>
<rect x="387.20" y="372" width="1.7" height="6" fill="#e6ff00"/>
<rect x="388.50" y="372" width="1.7" height="7" fill="#e6ff00"/>
<rect x="389.80" y="372" width="1.7" height="6" fill="#e6ff00"/>
<rect x="391.10" y="372" width="1.7" height="6" fill="#e6ff00"/>
<rect x="392.40" y="372" width="1.7" height="6" fill="#e6ff00"/>
<rect x="393.70" y="372" width="1.7" height="27" fill="#e6ff00"/>
<rect x="395.00" y="372" width="1.7" height="6" fill="#e6ff00"/>
<rect x="389" y="502.5" width="2.5" height="2" fill="#fd994d"/>
<rect x="397" y="372" width="1.3" height="2.5" fill="#e6ff00"/>
<rect x="405" y="372" width="1.3" height="2.5" fill="#e6ff00"/>
<rect x="413" y="372" width="1.3" height="2.2" fill="#e6ff00"/>
<rect x="421" y="372" width="1.3" height="2.5" fill="#e6ff00"/>
<rect x="427" y="372" width="1.3" height="7" fill="#e6ff00"/>
<rect x="428.3" y="372" width="1.3" height="4" fill="#e6ff00"/>
<rect x="431" y="372" width="1.3" height="3" fill="#e6ff00"/>
<rect x="435" y="372" width="1.3" height="4" fill="#e6ff00"/>
<rect x="437.5" y="372" width="1.3" height="3.5" fill="#e6ff00"/>
<rect x="440" y="372" width="1.3" height="5" fill="#e6ff00"/>
<rect x="441.3" y="372" width="1.3" height="3" fill="#e6ff00"/>
<rect x="445" y="372" width="1.3" height="2.5" fill="#e6ff00"/>
<rect x="459.3" y="372" width="1.4" height="10.5" fill="#e6ff00"/>
<rect x="451" y="372" width="1.3" height="2" fill="#e6ff00"/>
<rect x="455" y="372" width="1.3" height="2" fill="#e6ff00"/>
<rect x="465" y="372" width="1.3" height="2" fill="#e6ff00"/>
<rect x="470" y="372" width="1.3" height="2" fill="#e6ff00"/>
<rect x="476" y="372" width="1.3" height="2" fill="#e6ff00"/>
<rect x="482" y="372" width="1.3" height="2" fill="#e6ff00"/>
<rect x="496.6" y="372" width="1.4" height="22" fill="#e6ff00"/>
<rect x="502.7" y="377" width="1.5" height="127.5" fill="#c9a07a"/>
<rect x="506.9" y="377" width="1.5" height="127.5" fill="#c9a07a"/>
<rect x="502.7" y="372" width="6" height="5" fill="#e6ff00"/>
<rect x="516.7" y="428.3" width="1.4" height="76.19999999999999" fill="#d6a27a"/>
<rect x="559.2" y="410.6" width="1.4" height="93.89999999999998" fill="#d6a27a"/>
<rect x="514.00" y="500.5" width="1.7" height="4.0" fill="#fd994d"/>
<rect x="514.00" y="372" width="1.7" height="3" fill="#e6ff00"/>
<rect x="515.30" y="502.5" width="1.7" height="2.0" fill="#fd994d"/>
<rect x="515.30" y="372" width="1.7" height="2" fill="#e6ff00"/>
<rect x="516.60" y="501.5" width="1.7" height="3.0" fill="#fd994d"/>
<rect x="516.60" y="372" width="1.7" height="3" fill="#e6ff00"/>
<rect x="517.90" y="502.5" width="1.7" height="2.0" fill="#fd994d"/>
<rect x="517.90" y="372" width="1.7" height="3" fill="#e6ff00"/>
<rect x="519.20" y="502.0" width="1.7" height="2.5" fill="#fd994d"/>
<rect x="519.20" y="372" width="1.7" height="2" fill="#e6ff00"/>
<rect x="520.50" y="501.0" width="1.7" height="3.5" fill="#fd994d"/>
<rect x="520.50" y="372" width="1.7" height="2" fill="#e6ff00"/>
<rect x="521.80" y="501.5" width="1.7" height="3.0" fill="#fd994d"/>
<rect x="521.80" y="372" width="1.7" height="3.5" fill="#e6ff00"/>
<rect x="523.10" y="500.5" width="1.7" height="4.0" fill="#fd994d"/>
<rect x="523.10" y="372" width="1.7" height="2" fill="#e6ff00"/>
<rect x="524.40" y="501.0" width="1.7" height="3.5" fill="#fd994d"/>
<rect x="524.40" y="372" width="1.7" height="3.5" fill="#e6ff00"/>
<rect x="525.70" y="500.5" width="1.7" height="4.0" fill="#fd994d"/>
<rect x="525.70" y="372" width="1.7" height="2.5" fill="#e6ff00"/>
<rect x="527.00" y="501.5" width="1.7" height="3.0" fill="#fd994d"/>
<rect x="527.00" y="372" width="1.7" height="3" fill="#e6ff00"/>
<rect x="528.30" y="501.0" width="1.7" height="3.5" fill="#fd994d"/>
<rect x="528.30" y="372" width="1.7" height="2" fill="#e6ff00"/>
<rect x="529.60" y="502.5" width="1.7" height="2.0" fill="#fd994d"/>
<rect x="529.60" y="372" width="1.7" height="2" fill="#e6ff00"/>
<rect x="530.90" y="500.5" width="1.7" height="4.0" fill="#fd994d"/>
<rect x="530.90" y="372" width="1.7" height="2" fill="#e6ff00"/>
<rect x="532.20" y="501.0" width="1.7" height="3.5" fill="#fd994d"/>
<rect x="532.20" y="372" width="1.7" height="2" fill="#e6ff00"/>
<rect x="533.50" y="502.0" width="1.7" height="2.5" fill="#fd994d"/>
<rect x="533.50" y="372" width="1.7" height="2" fill="#e6ff00"/>
<rect x="534.80" y="500.5" width="1.7" height="4.0" fill="#fd994d"/>
<rect x="534.80" y="372" width="1.7" height="2" fill="#e6ff00"/>
<rect x="536.10" y="501.0" width="1.7" height="3.5" fill="#fd994d"/>
<rect x="536.10" y="372" width="1.7" height="2.5" fill="#e6ff00"/>
<rect x="537.40" y="499.5" width="1.7" height="5.0" fill="#fd994d"/>
<rect x="537.40" y="372" width="1.7" height="2.5" fill="#e6ff00"/>
<rect x="538.70" y="502.5" width="1.7" height="2.0" fill="#fd994d"/>
<rect x="538.70" y="372" width="1.7" height="3.5" fill="#e6ff00"/>
<rect x="540.00" y="501.5" width="1.7" height="3.0" fill="#fd994d"/>
<rect x="540.00" y="372" width="1.7" height="2" fill="#e6ff00"/>
<rect x="541.30" y="499.5" width="1.7" height="5.0" fill="#fd994d"/>
<rect x="541.30" y="372" width="1.7" height="3.5" fill="#e6ff00"/>
<rect x="542.60" y="501.0" width="1.7" height="3.5" fill="#fd994d"/>
<rect x="542.60" y="372" width="1.7" height="2.5" fill="#e6ff00"/>
<rect x="543.90" y="501.0" width="1.7" height="3.5" fill="#fd994d"/>
<rect x="543.90" y="372" width="1.7" height="3.5" fill="#e6ff00"/>
<rect x="545.20" y="499.5" width="1.7" height="5.0" fill="#fd994d"/>
<rect x="545.20" y="372" width="1.7" height="2" fill="#e6ff00"/>
<rect x="546.50" y="501.0" width="1.7" height="3.5" fill="#fd994d"/>
<rect x="546.50" y="372" width="1.7" height="2" fill="#e6ff00"/>
<rect x="547.80" y="502.0" width="1.7" height="2.5" fill="#fd994d"/>
<rect x="547.80" y="372" width="1.7" height="2.5" fill="#e6ff00"/>
<rect x="549.10" y="501.0" width="1.7" height="3.5" fill="#fd994d"/>
<rect x="549.10" y="372" width="1.7" height="2" fill="#e6ff00"/>
<rect x="550.40" y="501.5" width="1.7" height="3.0" fill="#fd994d"/>
<rect x="550.40" y="372" width="1.7" height="2" fill="#e6ff00"/>
<rect x="551.70" y="499.5" width="1.7" height="5.0" fill="#fd994d"/>
<rect x="551.70" y="372" width="1.7" height="2.5" fill="#e6ff00"/>
<rect x="553.00" y="501.0" width="1.7" height="3.5" fill="#fd994d"/>
<rect x="553.00" y="372" width="1.7" height="2" fill="#e6ff00"/>
<rect x="554.30" y="502.0" width="1.7" height="2.5" fill="#fd994d"/>
<rect x="554.30" y="372" width="1.7" height="2.5" fill="#e6ff00"/>
<rect x="555.60" y="502.5" width="1.7" height="2.0" fill="#fd994d"/>
<rect x="555.60" y="372" width="1.7" height="3" fill="#e6ff00"/>
<rect x="556.90" y="501.5" width="1.7" height="3.0" fill="#fd994d"/>
<rect x="556.90" y="372" width="1.7" height="3" fill="#e6ff00"/>
<rect x="558.20" y="500.5" width="1.7" height="4.0" fill="#fd994d"/>
<rect x="558.20" y="372" width="1.7" height="2" fill="#e6ff00"/>
<rect x="559.50" y="502.5" width="1.7" height="2.0" fill="#fd994d"/>
<rect x="559.50" y="372" width="1.7" height="3" fill="#e6ff00"/>
<rect x="560.80" y="499.5" width="1.7" height="5.0" fill="#fd994d"/>
<rect x="560.80" y="372" width="1.7" height="2" fill="#e6ff00"/>
<rect x="562.10" y="501.0" width="1.7" height="3.5" fill="#fd994d"/>
<rect x="562.10" y="372" width="1.7" height="2" fill="#e6ff00"/>
<rect x="563.40" y="499.5" width="1.7" height="5.0" fill="#fd994d"/>
<rect x="563.40" y="372" width="1.7" height="3" fill="#e6ff00"/>
<rect x="564.70" y="502.5" width="1.7" height="2.0" fill="#fd994d"/>
<rect x="564.70" y="372" width="1.7" height="3" fill="#e6ff00"/>
<rect x="566.00" y="501.0" width="1.7" height="3.5" fill="#fd994d"/>
<rect x="566.00" y="372" width="1.7" height="3" fill="#e6ff00"/>
<rect x="567.30" y="501.5" width="1.7" height="3.0" fill="#fd994d"/>
<rect x="567.30" y="372" width="1.7" height="2" fill="#e6ff00"/>
<rect x="568.60" y="500.5" width="1.7" height="4.0" fill="#fd994d"/>
<rect x="568.60" y="372" width="1.7" height="2" fill="#e6ff00"/>
<rect x="569.90" y="499.5" width="1.7" height="5.0" fill="#fd994d"/>
<rect x="569.90" y="372" width="1.7" height="2" fill="#e6ff00"/>
<rect x="571.20" y="501.0" width="1.7" height="3.5" fill="#fd994d"/>
<rect x="571.20" y="372" width="1.7" height="2" fill="#e6ff00"/>
<rect x="572.50" y="501.5" width="1.7" height="3.0" fill="#fd994d"/>
<rect x="572.50" y="372" width="1.7" height="3.5" fill="#e6ff00"/>
<rect x="574.5" y="410" width="12" height="94.5" fill="#fd994d"/>
<rect x="586.5" y="408.3" width="12.5" height="96.19999999999999" fill="#fd994d"/>
<rect x="575" y="372" width="24" height="3" fill="#e6ff00"/>
<rect x="1.3" y="371.8" width="597.7" height="133.1" fill="none" stroke="#000" stroke-width="2"/>
<line x1="27.5" y1="372" x2="27.5" y2="504.5" stroke="#000" stroke-width="1.3"/>
<line x1="60" y1="372" x2="60" y2="504.5" stroke="#000" stroke-width="1.3"/>
<line x1="78.7" y1="372" x2="78.7" y2="504.5" stroke="#000" stroke-width="1.3"/>
<line x1="107.5" y1="372" x2="107.5" y2="504.5" stroke="#000" stroke-width="1.3"/>
<line x1="141.3" y1="372" x2="141.3" y2="504.5" stroke="#000" stroke-width="1.3"/>
<line x1="151.6" y1="372" x2="151.6" y2="504.5" stroke="#000" stroke-width="1.3"/>
<line x1="163.3" y1="372" x2="163.3" y2="504.5" stroke="#000" stroke-width="1.3"/>
<line x1="180.7" y1="372" x2="180.7" y2="504.5" stroke="#000" stroke-width="1.3"/>
<line x1="204.3" y1="372" x2="204.3" y2="504.5" stroke="#000" stroke-width="1.3"/>
<line x1="223.3" y1="372" x2="223.3" y2="504.5" stroke="#000" stroke-width="1.3"/>
<line x1="257.3" y1="372" x2="257.3" y2="504.5" stroke="#000" stroke-width="1.3"/>
<line x1="291" y1="372" x2="291" y2="504.5" stroke="#000" stroke-width="1.3"/>
<line x1="328.4" y1="372" x2="328.4" y2="504.5" stroke="#000" stroke-width="1.3"/>
<line x1="362" y1="372" x2="362" y2="504.5" stroke="#000" stroke-width="1.3"/>
<line x1="396" y1="372" x2="396" y2="504.5" stroke="#000" stroke-width="1.3"/>
<line x1="449.3" y1="372" x2="449.3" y2="504.5" stroke="#000" stroke-width="1.3"/>
<line x1="486.6" y1="372" x2="486.6" y2="504.5" stroke="#000" stroke-width="1.3"/>
<line x1="512.7" y1="372" x2="512.7" y2="504.5" stroke="#000" stroke-width="1.3"/>
<line x1="574.3" y1="372" x2="574.3" y2="504.5" stroke="#000" stroke-width="1.3"/>
<text x="15.2" y="520.7" font-size="11.4" text-anchor="middle" fill="#111"  stroke="#111" stroke-width="0.18" style="">YD</text>
<text x="44" y="520.7" font-size="11.4" text-anchor="middle" fill="#111"  stroke="#111" stroke-width="0.18" style="">GB</text>
<text x="69.9" y="520.7" font-size="11.4" text-anchor="middle" fill="#111"  stroke="#111" stroke-width="0.18" style="">LL</text>
<text x="93.9" y="520.7" font-size="11.4" text-anchor="middle" fill="#111"  stroke="#111" stroke-width="0.18" style="">BM</text>
<text x="124" y="520.7" font-size="11.4" text-anchor="middle" fill="#111"  stroke="#111" stroke-width="0.18" style="">RW</text>
<text x="147.4" y="520.7" font-size="11.4" text-anchor="middle" fill="#111"  stroke="#111" stroke-width="0.18" style="">CD</text>
<text x="173.3" y="520.7" font-size="11.4" text-anchor="middle" fill="#111"  stroke="#111" stroke-width="0.18" style="">TC</text>
<text x="194" y="520.7" font-size="11.4" text-anchor="middle" fill="#111"  stroke="#111" stroke-width="0.18" style="">XX</text>
<text x="216.7" y="520.7" font-size="11.4" text-anchor="middle" fill="#111"  stroke="#111" stroke-width="0.18" style="">LJ1</text>
<text x="244.3" y="520.7" font-size="11.4" text-anchor="middle" fill="#111"  stroke="#111" stroke-width="0.18" style="">JL</text>
<text x="275" y="520.7" font-size="11.4" text-anchor="middle" fill="#111"  stroke="#111" stroke-width="0.18" style="">LJS</text>
<text x="310.7" y="520.7" font-size="11.4" text-anchor="middle" fill="#111"  stroke="#111" stroke-width="0.18" style="">KD</text>
<text x="343.3" y="520.7" font-size="11.4" text-anchor="middle" fill="#111"  stroke="#111" stroke-width="0.18" style="">JD</text>
<text x="378.8" y="520.7" font-size="11.4" text-anchor="middle" fill="#111"  stroke="#111" stroke-width="0.18" style="">BT</text>
<text x="425" y="520.7" font-size="11.4" text-anchor="middle" fill="#111"  stroke="#111" stroke-width="0.18" style="">GZ</text>
<text x="466.5" y="520.7" font-size="11.4" text-anchor="middle" fill="#111"  stroke="#111" stroke-width="0.18" style="">LT</text>
<text x="501" y="520.7" font-size="11.4" text-anchor="middle" fill="#111"  stroke="#111" stroke-width="0.18" style="">DF</text>
<text x="541.2" y="520.7" font-size="11.4" text-anchor="middle" fill="#111"  stroke="#111" stroke-width="0.18" style="">SJS</text>
<text x="586" y="520.7" font-size="11.4" text-anchor="middle" fill="#111"  stroke="#111" stroke-width="0.18" style="">TW</text>
<text x="160.7" y="520.7" font-size="11.4" text-anchor="middle" fill="#111"  stroke="#111" stroke-width="0.18" style="">*</text>
<text x="1.3" y="537.8" font-size="11.4" text-anchor="start" fill="#111" textLength="24" lengthAdjust="spacingAndGlyphs"  stroke="#111" stroke-width="0.18" style="">* LJ2</text>
<path d="M243.5 566.5H251.6 M243.5 579.4H251.6 M243.5 565.8V580.1 M246.5 592.4H251.6 M246.5 605.3H251.6 M246.5 591.6V606.0 M238.4 572.9H243.5 M238.4 598.8H246.5 M238.4 572.2V599.5 M233.6 553.5H251.6 M233.6 585.9H238.4 M233.6 552.8V586.6 M246.5 631.2H251.6 M246.5 644.1H251.6 M246.5 630.5V644.9 M237.5 618.2H251.6 M237.5 637.7H246.5 M237.5 617.5V638.4 M243.5 670.0H251.6 M243.5 683.0H251.6 M243.5 669.3V683.7 M242.6 708.9H251.6 M242.6 721.9H251.6 M242.6 708.2V722.6 M236.0 696.0H251.6 M236.0 715.4H242.6 M236.0 695.2V716.1 M227.0 676.5H243.5 M227.0 705.7H236.0 M227.0 675.8V706.4 M221.0 657.1H251.6 M221.0 691.1H227.0 M221.0 656.4V691.8 M211.4 628.0H237.5 M211.4 674.1H221.0 M211.4 627.3V674.8 M200.6 569.7H233.6 M200.6 651.0H211.4 M200.6 569.0V651.7 M226.1 734.8H251.6 M226.1 747.8H251.6 M226.1 734.1V748.5 M239.6 760.7H251.6 M239.6 773.6H251.6 M239.6 760.0V774.4 M209.6 741.3H226.1 M209.6 767.2H239.6 M209.6 740.6V767.9 M179.6 610.4H200.6 M179.6 754.2H209.6 M179.6 609.7V754.9 M245.0 786.6H251.6 M245.0 799.5H251.6 M245.0 785.9V800.2 M239.0 812.5H251.6 M239.0 793.1H245.0 M239.0 792.4V813.2 M227.0 825.5H251.6 M227.0 802.8H239.0 M227.0 802.1V826.2 M215.6 838.4H251.6 M215.6 814.1H227.0 M215.6 813.4V839.1 M208.1 851.3H251.6 M208.1 826.3H215.6 M208.1 825.6V852.0 M244.4 864.3H251.6 M244.4 877.2H251.6 M244.4 863.6V878.0 M236.0 890.2H251.6 M236.0 870.8H244.4 M236.0 870.1V890.9 M194.9 838.8H208.1 M194.9 880.5H236.0 M194.9 838.1V881.2 M153.7 682.3H179.6 M153.7 859.6H194.9 M153.7 681.6V860.3 M102.9 903.1H251.6 M102.9 771.0H153.7 M102.9 770.3V903.9 M100.5 916.3H252.5 M21.6 836.0V916.9 M19.5 875.9H21.6" stroke="#111" stroke-width="1.4" fill="none"/>
<path d="M21.6 836.6H102.9 M21.6 916.3H100.5 M17.4 928H100.5" stroke="#111" stroke-width="1.4" stroke-dasharray="3 1.8" fill="none"/>
<path d="M100.5 928H251.6 M251.6 928V931 M188 928V931 M124.5 928V931 M17.4 928V931" stroke="#111" stroke-width="1.4" fill="none"/>
<text x="254.6" y="556.6" font-size="8.8" text-anchor="start" fill="#111"  stroke="#111" stroke-width="0.18" style="">H25</text>
<text x="254.6" y="569.5500000000001" font-size="8.8" text-anchor="start" fill="#111"  stroke="#111" stroke-width="0.18" style="">H19</text>
<text x="254.6" y="582.5" font-size="8.8" text-anchor="start" fill="#111"  stroke="#111" stroke-width="0.18" style="">H21</text>
<text x="254.6" y="595.45" font-size="8.8" text-anchor="start" fill="#111"  stroke="#111" stroke-width="0.18" style="">H10</text>
<text x="254.6" y="608.4" font-size="8.8" text-anchor="start" fill="#111"  stroke="#111" stroke-width="0.18" style="">H18</text>
<text x="254.6" y="621.35" font-size="8.8" text-anchor="start" fill="#111"  stroke="#111" stroke-width="0.18" style="">H5</text>
<text x="254.6" y="634.3000000000001" font-size="8.8" text-anchor="start" fill="#111"  stroke="#111" stroke-width="0.18" style="">H12</text>
<text x="254.6" y="647.25" font-size="8.8" text-anchor="start" fill="#111"  stroke="#111" stroke-width="0.18" style="">H11</text>
<text x="254.6" y="660.2" font-size="8.8" text-anchor="start" fill="#111"  stroke="#111" stroke-width="0.18" style="">H20</text>
<text x="254.6" y="673.15" font-size="8.8" text-anchor="start" fill="#111"  stroke="#111" stroke-width="0.18" style="">H3</text>
<text x="254.6" y="686.1" font-size="8.8" text-anchor="start" fill="#111"  stroke="#111" stroke-width="0.18" style="">H2</text>
<text x="254.6" y="699.0500000000001" font-size="8.8" text-anchor="start" fill="#111"  stroke="#111" stroke-width="0.18" style="">H13</text>
<text x="254.6" y="712.0" font-size="8.8" text-anchor="start" fill="#111"  stroke="#111" stroke-width="0.18" style="">H1</text>
<text x="254.6" y="724.95" font-size="8.8" text-anchor="start" fill="#111"  stroke="#111" stroke-width="0.18" style="">H4</text>
<text x="254.6" y="737.9" font-size="8.8" text-anchor="start" fill="#111"  stroke="#111" stroke-width="0.18" style="">H27</text>
<text x="254.6" y="750.85" font-size="8.8" text-anchor="start" fill="#111"  stroke="#111" stroke-width="0.18" style="">H26</text>
<text x="254.6" y="763.8000000000001" font-size="8.8" text-anchor="start" fill="#111"  stroke="#111" stroke-width="0.18" style="">H8</text>
<text x="254.6" y="776.75" font-size="8.8" text-anchor="start" fill="#111"  stroke="#111" stroke-width="0.18" style="">H15</text>
<text x="254.6" y="789.7" font-size="8.8" text-anchor="start" fill="#111"  stroke="#111" stroke-width="0.18" style="">H6</text>
<text x="254.6" y="802.65" font-size="8.8" text-anchor="start" fill="#111"  stroke="#111" stroke-width="0.18" style="">H14</text>
<text x="254.6" y="815.6" font-size="8.8" text-anchor="start" fill="#111"  stroke="#111" stroke-width="0.18" style="">H24</text>
<text x="254.6" y="828.5500000000001" font-size="8.8" text-anchor="start" fill="#111"  stroke="#111" stroke-width="0.18" style="">H7</text>
<text x="254.6" y="841.5" font-size="8.8" text-anchor="start" fill="#111"  stroke="#111" stroke-width="0.18" style="">H28</text>
<text x="254.6" y="854.4499999999999" font-size="8.8" text-anchor="start" fill="#111"  stroke="#111" stroke-width="0.18" style="">H9</text>
<text x="254.6" y="867.4" font-size="8.8" text-anchor="start" fill="#111"  stroke="#111" stroke-width="0.18" style="">H17</text>
<text x="254.6" y="880.35" font-size="8.8" text-anchor="start" fill="#111"  stroke="#111" stroke-width="0.18" style="">H16</text>
<text x="254.6" y="893.3000000000001" font-size="8.8" text-anchor="start" fill="#111"  stroke="#111" stroke-width="0.18" style="">H23</text>
<text x="254.6" y="906.25" font-size="8.8" text-anchor="start" fill="#111"  stroke="#111" stroke-width="0.18" style="">H22</text>
<text x="254.6" y="919.4" font-size="8.6" text-anchor="start" fill="#111" textLength="34.5" lengthAdjust="spacingAndGlyphs"  stroke="#111" stroke-width="0.18" style="font-style:italic">B. edulis</text>
<text x="9" y="939.5" font-size="8.8" text-anchor="start" fill="#111" textLength="15.5" lengthAdjust="spacingAndGlyphs"  stroke="#111" stroke-width="0.18" style="">12.5</text>
<text x="124.5" y="939.5" font-size="8.8" text-anchor="middle" fill="#111"  stroke="#111" stroke-width="0.18" style="">5</text>
<text x="187.5" y="939.5" font-size="8.8" text-anchor="middle" fill="#111"  stroke="#111" stroke-width="0.18" style="">2.5</text>
<text x="249.5" y="939.5" font-size="8.8" text-anchor="start" fill="#111" textLength="23.4" lengthAdjust="spacingAndGlyphs"  stroke="#111" stroke-width="0.18" style="">0 Mya</text>
<text x="276.5" y="955.5" font-size="13.5" text-anchor="start" fill="#111" textLength="14.6" lengthAdjust="spacingAndGlyphs"  stroke="#111" stroke-width="0.18" style="">(c)</text>
<text x="221" y="564.6" font-size="8.8" text-anchor="start" fill="#111"  stroke="#111" stroke-width="0.18" style="">E</text>
<text x="224" y="579" font-size="8.8" text-anchor="middle" fill="#111"  stroke="#111" stroke-width="0.18" style="">1</text>
<text x="189.5" y="606" font-size="8.8" text-anchor="start" fill="#111"  stroke="#111" stroke-width="0.18" style="">D</text>
<text x="184.4" y="620.4" font-size="8.8" text-anchor="start" fill="#111" textLength="11.6" lengthAdjust="spacingAndGlyphs"  stroke="#111" stroke-width="0.18" style="">.99</text>
<text x="203" y="661.5" font-size="8.8" text-anchor="start" fill="#111"  stroke="#111" stroke-width="0.18" style="">F</text>
<text x="170" y="678.9" font-size="8.8" text-anchor="start" fill="#111"  stroke="#111" stroke-width="0.18" style="">C</text>
<text x="198" y="750.9" font-size="8.8" text-anchor="start" fill="#111"  stroke="#111" stroke-width="0.18" style="">G</text>
<text x="143.4" y="766.8" font-size="8.8" text-anchor="start" fill="#111"  stroke="#111" stroke-width="0.18" style="">B</text>
<text x="184.4" y="854.4" font-size="8.8" text-anchor="start" fill="#111"  stroke="#111" stroke-width="0.18" style="">H</text>
<text x="91.8" y="831.5" font-size="8.8" text-anchor="start" fill="#111"  stroke="#111" stroke-width="0.18" style="">A</text>
<text x="87" y="846.5" font-size="8.8" text-anchor="start" fill="#111" textLength="12" lengthAdjust="spacingAndGlyphs"  stroke="#111" stroke-width="0.18" style="">.99</text>
<path d="M275.9 551V608.4 M275.9 615V723.6 M275.9 732V750 M275.9 757.5V905.4" stroke="#111" stroke-width="1.4" fill="none"/>
<text x="278" y="582" font-size="8.8" text-anchor="start" fill="#111" textLength="11" lengthAdjust="spacingAndGlyphs"  stroke="#111" stroke-width="0.18" style="">EH</text>
<text x="278" y="670.5" font-size="8.8" text-anchor="start" fill="#111" textLength="19.2" lengthAdjust="spacingAndGlyphs"  stroke="#111" stroke-width="0.18" style="">NHM</text>
<text x="278.6" y="744.6" font-size="8.8" text-anchor="start" fill="#111" textLength="12.9" lengthAdjust="spacingAndGlyphs"  stroke="#111" stroke-width="0.18" style="">TW</text>
<text x="278" y="836.4" font-size="8.8" text-anchor="start" fill="#111" textLength="18.6" lengthAdjust="spacingAndGlyphs"  stroke="#111" stroke-width="0.18" style="">SHM</text>
<text x="27.6" y="797.6" font-size="11" text-anchor="start" fill="#111" textLength="70.8" lengthAdjust="spacingAndGlyphs"  stroke="#111" stroke-width="0.18" style="font-style:italic">B. reticuloceps</text>
<path d="M59.1 803 L82 824" stroke="#111" stroke-width="1.3"/>
<polygon points="87.3,828.8 75.6,823.6 80.9,817.9" fill="#111"/>
<path d="M25.9 576.5H141.3 M25.9 594.1H141.3 M25.9 730.7H141.3" stroke="#777" stroke-width="1"/>
<text x="32" y="588.8" font-size="8.8" text-anchor="start" fill="#111"  stroke="#111" stroke-width="0.18" style="">Node</text>
<text x="64.8" y="588.8" font-size="8.8" text-anchor="start" fill="#111"  stroke="#111" stroke-width="0.18" style="">Time</text>
<text x="93.3" y="588.8" font-size="8.8" text-anchor="start" fill="#111" textLength="38.7" lengthAdjust="spacingAndGlyphs"  stroke="#111" stroke-width="0.18" style="">95% HPD</text>
<text x="32" y="606.1" font-size="8.8" text-anchor="start" fill="#111"  stroke="#111" stroke-width="0.18" style="">A</text>
<text x="64.8" y="606.1" font-size="8.8" text-anchor="start" fill="#111"  stroke="#111" stroke-width="0.18" style="">5.85</text>
<text x="93.3" y="606.1" font-size="8.8" text-anchor="start" fill="#111"  stroke="#111" stroke-width="0.18" style="">3.31-9.15</text>
<text x="32" y="623.0600000000001" font-size="8.8" text-anchor="start" fill="#111"  stroke="#111" stroke-width="0.18" style="">B</text>
<text x="64.8" y="623.0600000000001" font-size="8.8" text-anchor="start" fill="#111"  stroke="#111" stroke-width="0.18" style="">3.86</text>
<text x="93.3" y="623.0600000000001" font-size="8.8" text-anchor="start" fill="#111"  stroke="#111" stroke-width="0.18" style="">2.29-5.58</text>
<text x="32" y="640.02" font-size="8.8" text-anchor="start" fill="#111"  stroke="#111" stroke-width="0.18" style="">C</text>
<text x="64.8" y="640.02" font-size="8.8" text-anchor="start" fill="#111"  stroke="#111" stroke-width="0.18" style="">2.83</text>
<text x="93.3" y="640.02" font-size="8.8" text-anchor="start" fill="#111"  stroke="#111" stroke-width="0.18" style="">1.59-4.45</text>
<text x="32" y="656.98" font-size="8.8" text-anchor="start" fill="#111"  stroke="#111" stroke-width="0.18" style="">D</text>
<text x="64.8" y="656.98" font-size="8.8" text-anchor="start" fill="#111"  stroke="#111" stroke-width="0.18" style="">2.04</text>
<text x="93.3" y="656.98" font-size="8.8" text-anchor="start" fill="#111"  stroke="#111" stroke-width="0.18" style="">1-3.43</text>
<text x="32" y="673.94" font-size="8.8" text-anchor="start" fill="#111"  stroke="#111" stroke-width="0.18" style="">E</text>
<text x="64.8" y="673.94" font-size="8.8" text-anchor="start" fill="#111"  stroke="#111" stroke-width="0.18" style="">0.72</text>
<text x="93.3" y="673.94" font-size="8.8" text-anchor="start" fill="#111"  stroke="#111" stroke-width="0.18" style="">0.21-1.44</text>
<text x="32" y="690.9000000000001" font-size="8.8" text-anchor="start" fill="#111"  stroke="#111" stroke-width="0.18" style="">F</text>
<text x="64.8" y="690.9000000000001" font-size="8.8" text-anchor="start" fill="#111"  stroke="#111" stroke-width="0.18" style="">1.59</text>
<text x="93.3" y="690.9000000000001" font-size="8.8" text-anchor="start" fill="#111"  stroke="#111" stroke-width="0.18" style="">0.7-2.7</text>
<text x="32" y="707.86" font-size="8.8" text-anchor="start" fill="#111"  stroke="#111" stroke-width="0.18" style="">G</text>
<text x="64.8" y="707.86" font-size="8.8" text-anchor="start" fill="#111"  stroke="#111" stroke-width="0.18" style="">1.67</text>
<text x="93.3" y="707.86" font-size="8.8" text-anchor="start" fill="#111"  stroke="#111" stroke-width="0.18" style="">0.45-3.19</text>
<text x="32" y="724.82" font-size="8.8" text-anchor="start" fill="#111"  stroke="#111" stroke-width="0.18" style="">H</text>
<text x="64.8" y="724.82" font-size="8.8" text-anchor="start" fill="#111"  stroke="#111" stroke-width="0.18" style="">2.23</text>
<text x="93.3" y="724.82" font-size="8.8" text-anchor="start" fill="#111"  stroke="#111" stroke-width="0.18" style="">0.84-3.89</text>
<line x1="302.3" y1="546" x2="302.3" y2="959" stroke="#111" stroke-width="1.7" stroke-dasharray="1.9 2.1"/>
<path d="M478.3 560.4L478.3 637.5 M478.3 637.5L558.3 637.5 M432 591.8L478.3 637.5 M412 637.3L478.3 637.5 M412 637.3L412 678 M412 678L478.3 744.5 M478.3 637.5L478.3 744.5 M478.3 744.5L517 704.6 M478.3 744.5L516.3 783.8 M478.3 744.5L560 746.3 M343.8 745.5L404 745.5 M404 745.5L478.3 744.5 M560 746.3L559.6 806.3 M559.6 806.3L560.4 834.6 M478.3 744.5L478.3 822.6 M478.3 822.6L478.5 875.2 M326.3 822.8L375 822.6 M375 822.6L478.3 822.6 M341.3 855.8L375 822.6 M375 822.6L375 875 M342.5 875L375 875 M375 875L421.8 875 M421.8 875L478.5 875.2 M421.8 822.6L421.8 875 M421.8 875L421.8 928 M393.8 899.5L421.8 875 M381.3 928L421.8 928 M421.8 928L478.2 928 M478.2 928L478.5 875.2 M478.5 875.2L512.8 909.2 M478.5 875.2L530.7 875.2 M530.7 875.2L560.8 875.2 M408 649.5H416 M408 653.2H416 M474.3 695.4H482.3 M474.3 699H482.3 M542.7 871.7V878.7 M546 871.7V878.7 M549.3 871.7V878.7" stroke="#1a1212" stroke-width="1.9" fill="none"/>
<circle cx="478.3" cy="560.4" r="13.7" fill="#e6ff00" stroke="#1a1212" stroke-width="1.9"/>
<circle cx="478.3" cy="637.5" r="37.7" fill="#e6ff00" stroke="#1a1212" stroke-width="1.9"/>
<path d="M477.3 636L504.81 664.49A39.6 39.6 0 0 1 493.03 672.34Z" fill="#0c94e8" stroke="#1a1212" stroke-width="1.5" stroke-linejoin="round"/>
<circle cx="478.3" cy="637.5" r="37.7" fill="none" stroke="#1a1212" stroke-width="1.9"/>
<circle cx="558.3" cy="637.5" r="16.2" fill="#e6ff00" stroke="#1a1212" stroke-width="1.9"/>
<circle cx="432" cy="591.8" r="2.5" fill="#e6ff00" stroke="#1a1212" stroke-width="1.2"/>
<circle cx="412" cy="637.3" r="2.5" fill="#e6ff00" stroke="#1a1212" stroke-width="1.2"/>
<circle cx="412" cy="678" r="13.7" fill="#e6ff00" stroke="#1a1212" stroke-width="1.9"/>
<circle cx="478.3" cy="744.5" r="25.2" fill="#0c94e8" stroke="#1a1212" stroke-width="1.9"/>
<circle cx="404" cy="745.5" r="24.7" fill="#0c94e8" stroke="#1a1212" stroke-width="1.9"/>
<path d="M404 745.5L404.00 720.80A24.7 24.7 0 0 1 410.39 721.64Z" fill="#e6ff00" stroke="#1a1212" stroke-width="1.1" stroke-linejoin="round"/>
<path d="M404 745.5L410.39 721.64A24.7 24.7 0 0 1 427.74 738.69Z" fill="#fd994d" stroke="#1a1212" stroke-width="1.1" stroke-linejoin="round"/>
<circle cx="343.8" cy="745.5" r="10.2" fill="#0c94e8" stroke="#1a1212" stroke-width="1.9"/>
<circle cx="517" cy="704.6" r="5" fill="#0c94e8" stroke="#1a1212" stroke-width="1.9"/>
<circle cx="516.3" cy="783.8" r="5" fill="#0c94e8" stroke="#1a1212" stroke-width="1.9"/>
<circle cx="560" cy="746.3" r="36.4" fill="#0c94e8" stroke="#1a1212" stroke-width="1.9"/>
<path d="M559.5 741.5L588.75 768.78A40 40 0 0 1 581.29 775.05Z" fill="#fd994d" stroke="#1a1212" stroke-width="1.2" stroke-linejoin="round"/>
<circle cx="560" cy="746.3" r="36.4" fill="none" stroke="#1a1212" stroke-width="1.9"/>
<circle cx="559.6" cy="806.3" r="7" fill="#0c94e8" stroke="#1a1212" stroke-width="1.9"/>
<circle cx="560.4" cy="834.6" r="3.6" fill="#0c94e8" stroke="#1a1212" stroke-width="1.9"/>
<circle cx="375" cy="822.6" r="25.2" fill="#fd994d" stroke="#1a1212" stroke-width="1.9"/>
<path d="M375 822.6L375.00 797.40A25.2 25.2 0 0 1 379.38 797.78Z" fill="#0c94e8" stroke="#1a1212" stroke-width="1.3" stroke-linejoin="round"/>
<circle cx="326.3" cy="822.8" r="5" fill="#fd994d" stroke="#1a1212" stroke-width="1.9"/>
<circle cx="421.8" cy="822.6" r="2.5" fill="#fd994d" stroke="#1a1212" stroke-width="1.2"/>
<circle cx="341.3" cy="855.8" r="2.5" fill="#fd994d" stroke="#1a1212" stroke-width="1.2"/>
<circle cx="342.5" cy="875" r="6" fill="#fd994d" stroke="#1a1212" stroke-width="1.9"/>
<circle cx="421.8" cy="875" r="14.7" fill="#fd994d" stroke="#1a1212" stroke-width="1.9"/>
<circle cx="478.5" cy="875.2" r="25.5" fill="#fd994d" stroke="#1a1212" stroke-width="1.9"/>
<path d="M478.5 875.2L497.15 857.81A25.5 25.5 0 0 1 498.32 859.15Z" fill="#0c94e8" stroke="#1a1212" stroke-width="1.4" stroke-linejoin="round"/>
<circle cx="393.8" cy="899.5" r="2.5" fill="#fd994d" stroke="#1a1212" stroke-width="1.2"/>
<circle cx="381.3" cy="928" r="7.5" fill="#fd994d" stroke="#1a1212" stroke-width="1.9"/>
<circle cx="421.8" cy="928" r="7.5" fill="#fd994d" stroke="#1a1212" stroke-width="1.9"/>
<circle cx="478.2" cy="928" r="2.5" fill="#fd994d" stroke="#1a1212" stroke-width="1.2"/>
<circle cx="512.8" cy="909.2" r="2.5" fill="#fd994d" stroke="#1a1212" stroke-width="1.2"/>
<circle cx="530.7" cy="875.2" r="2.6" fill="#ff0000" stroke="#1a1212" stroke-width="1.2"/>
<circle cx="560.8" cy="875.2" r="2.6" fill="#ff0000" stroke="#1a1212" stroke-width="1.2"/>
<circle cx="478.3" cy="822.6" r="3.2" fill="#000"/><circle cx="375" cy="875" r="3.2" fill="#000"/>
<text x="498" y="563.4" font-size="8.8" text-anchor="start" fill="#1a1212" textLength="33" lengthAdjust="spacingAndGlyphs" stroke="#1a1212" stroke-width="0.25" style="">H18 (11)</text>
<text x="417" y="582" font-size="8.8" text-anchor="start" fill="#1a1212" textLength="29.3" lengthAdjust="spacingAndGlyphs" stroke="#1a1212" stroke-width="0.25" style="">H19 (1)</text>
<text x="395" y="627.5" font-size="8.8" text-anchor="start" fill="#1a1212" textLength="29.3" lengthAdjust="spacingAndGlyphs" stroke="#1a1212" stroke-width="0.25" style="">H21 (1)</text>
<text x="461" y="633.6" font-size="8.8" text-anchor="start" fill="#1a1212" textLength="39.4" lengthAdjust="spacingAndGlyphs" stroke="#1a1212" stroke-width="0.25" style="">H10 (148)</text>
<text x="544.5" y="615.6" font-size="8.8" text-anchor="start" fill="#1a1212" textLength="33.5" lengthAdjust="spacingAndGlyphs" stroke="#1a1212" stroke-width="0.25" style="">H25 (13)</text>
<text x="362.5" y="680.5" font-size="8.8" text-anchor="start" fill="#1a1212" textLength="33.3" lengthAdjust="spacingAndGlyphs" stroke="#1a1212" stroke-width="0.25" style="">H20 (11)</text>
<text x="514.5" y="696" font-size="8.8" text-anchor="start" fill="#1a1212" textLength="24.5" lengthAdjust="spacingAndGlyphs" stroke="#1a1212" stroke-width="0.25" style="">H4 (4)</text>
<text x="390.8" y="755.5" font-size="8.8" text-anchor="start" fill="#1a1212" textLength="28.7" lengthAdjust="spacingAndGlyphs" stroke="#1a1212" stroke-width="0.25" style="">H2 (50)</text>
<text x="333.8" y="767.5" font-size="8.8" text-anchor="start" fill="#1a1212" textLength="24.2" lengthAdjust="spacingAndGlyphs" stroke="#1a1212" stroke-width="0.25" style="">H3 (8)</text>
<text x="465" y="747.5" font-size="8.8" text-anchor="start" fill="#1a1212" textLength="28.8" lengthAdjust="spacingAndGlyphs" stroke="#1a1212" stroke-width="0.25" style="">H1 (53)</text>
<text x="545" y="738.8" font-size="8.8" text-anchor="start" fill="#1a1212" textLength="33" lengthAdjust="spacingAndGlyphs" stroke="#1a1212" stroke-width="0.25" style="">H5 (117)</text>
<text x="502.5" y="799.5" font-size="8.8" text-anchor="start" fill="#1a1212" textLength="28.8" lengthAdjust="spacingAndGlyphs" stroke="#1a1212" stroke-width="0.25" style="">H13 (4)</text>
<text x="571.8" y="810" font-size="8.8" text-anchor="start" fill="#1a1212" textLength="27" lengthAdjust="spacingAndGlyphs" stroke="#1a1212" stroke-width="0.25" style="">H11 (6)</text>
<text x="569.5" y="837.5" font-size="8.8" text-anchor="start" fill="#1a1212" textLength="28.5" lengthAdjust="spacingAndGlyphs" stroke="#1a1212" stroke-width="0.25" style="">H12 (3)</text>
<text x="311.3" y="811.3" font-size="8.8" text-anchor="start" fill="#1a1212" textLength="29.2" lengthAdjust="spacingAndGlyphs" stroke="#1a1212" stroke-width="0.25" style="">H14 (4)</text>
<text x="363" y="833.8" font-size="8.8" text-anchor="start" fill="#1a1212" textLength="26.3" lengthAdjust="spacingAndGlyphs" stroke="#1a1212" stroke-width="0.25" style="">H6 (67)</text>
<text x="410.8" y="817" font-size="8.8" text-anchor="start" fill="#1a1212" textLength="29.2" lengthAdjust="spacingAndGlyphs" stroke="#1a1212" stroke-width="0.25" style="">H28 (1)</text>
<text x="308.8" y="857.5" font-size="8.8" text-anchor="start" fill="#1a1212" textLength="28" lengthAdjust="spacingAndGlyphs" stroke="#1a1212" stroke-width="0.25" style="">H24 (1)</text>
<text x="324.3" y="892" font-size="8.8" text-anchor="start" fill="#1a1212" textLength="23.7" lengthAdjust="spacingAndGlyphs" stroke="#1a1212" stroke-width="0.25" style="">H7 (5)</text>
<text x="385" y="860" font-size="8.8" text-anchor="start" fill="#1a1212" textLength="28.8" lengthAdjust="spacingAndGlyphs" stroke="#1a1212" stroke-width="0.25" style="">H9 (12)</text>
<text x="360" y="903" font-size="8.8" text-anchor="start" fill="#1a1212" textLength="28.8" lengthAdjust="spacingAndGlyphs" stroke="#1a1212" stroke-width="0.25" style="">H22 (2)</text>
<text x="396.3" y="891.8" font-size="8.8" text-anchor="start" fill="#1a1212" stroke="#1a1212" stroke-width="0.25" style="">6</text>
<text x="367" y="944.5" font-size="8.8" text-anchor="start" fill="#1a1212" textLength="28" lengthAdjust="spacingAndGlyphs" stroke="#1a1212" stroke-width="0.25" style="">H17 (6)</text>
<text x="407" y="945" font-size="8.8" text-anchor="start" fill="#1a1212" textLength="28.5" lengthAdjust="spacingAndGlyphs" stroke="#1a1212" stroke-width="0.25" style="">H16 (6)</text>
<text x="464.8" y="884" font-size="8.8" text-anchor="start" fill="#1a1212" textLength="29.2" lengthAdjust="spacingAndGlyphs" stroke="#1a1212" stroke-width="0.25" style="">H8 (61)</text>
<text x="520.5" y="889.5" font-size="8.8" text-anchor="start" fill="#1a1212" textLength="28.8" lengthAdjust="spacingAndGlyphs" stroke="#1a1212" stroke-width="0.25" style="">H26 (2)</text>
<text x="550" y="868" font-size="8.8" text-anchor="start" fill="#1a1212" textLength="29.2" lengthAdjust="spacingAndGlyphs" stroke="#1a1212" stroke-width="0.25" style="">H27 (2)</text>
<text x="519" y="914" font-size="8.8" text-anchor="start" fill="#1a1212" textLength="28.5" lengthAdjust="spacingAndGlyphs" stroke="#1a1212" stroke-width="0.25" style="">H15 (1)</text>
<text x="464.8" y="944" font-size="8.8" text-anchor="start" fill="#1a1212" textLength="29.2" lengthAdjust="spacingAndGlyphs" stroke="#1a1212" stroke-width="0.25" style="">H23 (1)</text>
<text x="314.5" y="955.5" font-size="13.5" text-anchor="start" fill="#111" textLength="15" lengthAdjust="spacingAndGlyphs"  stroke="#111" stroke-width="0.18" style="">(d)</text>
<rect x="322.5" y="549.8" width="28.1" height="13.4" fill="#e6ff00" stroke="#1a1212" stroke-width="2.2"/>
<text x="357.4" y="559.7" font-size="10.4" text-anchor="start" fill="#1a1212" textLength="11.8" lengthAdjust="spacingAndGlyphs"  stroke="#1a1212" stroke-width="0.18" style="">EH</text>
<rect x="322.5" y="572.4" width="28.1" height="13.4" fill="#0c94e8" stroke="#1a1212" stroke-width="2.2"/>
<text x="357.4" y="583.9" font-size="10.4" text-anchor="start" fill="#1a1212" textLength="20.3" lengthAdjust="spacingAndGlyphs"  stroke="#1a1212" stroke-width="0.18" style="">NHM</text>
<rect x="322.5" y="595.8" width="28.1" height="13.4" fill="#fd994d" stroke="#1a1212" stroke-width="2.2"/>
<text x="357.4" y="606.7" font-size="10.4" text-anchor="start" fill="#1a1212" textLength="20" lengthAdjust="spacingAndGlyphs"  stroke="#1a1212" stroke-width="0.18" style="">SHM</text>
<rect x="322.5" y="619.8" width="28.1" height="13.4" fill="#ff0000" stroke="#1a1212" stroke-width="2.2"/>
<text x="357.4" y="630.1" font-size="10.4" text-anchor="start" fill="#1a1212" textLength="13.2" lengthAdjust="spacingAndGlyphs"  stroke="#1a1212" stroke-width="0.18" style="">TW</text>
</svg></body></html>
